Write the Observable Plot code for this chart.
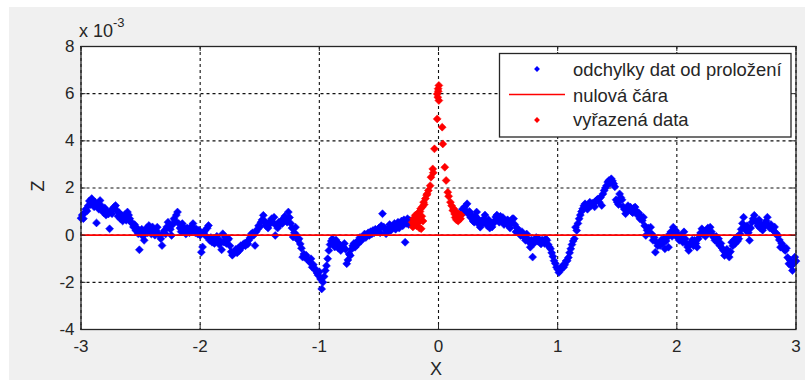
<!DOCTYPE html>
<html><head><meta charset="utf-8">
<script src="https://cdn.jsdelivr.net/npm/d3@7"></script>
<script src="https://cdn.jsdelivr.net/npm/@observablehq/plot@0.6"></script>
<style>
body{margin:0;background:#fff;}
#wrap{position:relative;width:805px;height:380px;overflow:hidden;font-family:"Liberation Sans",Arial,sans-serif;}
#bg{position:absolute;left:9px;top:7px;right:0;bottom:0;background:#f0f0f0}
#chart{position:absolute;left:0;top:0}
#over{position:absolute;left:0;top:0}
</style></head><body>
<div id="wrap"><div id="bg"></div><div id="chart"></div><svg id="over" width="805" height="380"></svg></div>
<script>
// values of Z in units of 1e-3
const xTicks = [-3, -2, -1, 0, 1, 2, 3];
const yTicks = [-4, -2, 0, 2, 4, 6, 8];
const seriesNames = ["odchylky dat od proložení", "nulová čára", "vyřazená data"];
const blueLeft = [[-3.00,0.72],[-2.99,0.85],[-2.98,0.70],[-2.97,0.95],[-2.96,1.10],[-2.95,1.02],[-2.94,1.25],[-2.93,1.45],[-2.92,1.30],[-2.91,1.55],[-2.90,1.38],[-2.89,1.20],[-2.88,1.40],[-2.87,0.52],[-2.86,1.30],[-2.85,1.10],[-2.84,1.47],[-2.83,1.25],[-2.82,1.05],[-2.81,0.95],[-2.80,1.15],[-2.79,0.85],[-2.78,1.00],[-2.77,0.90],[-2.76,0.27],[-2.75,1.05],[-2.74,0.91],[-2.73,1.10],[-2.72,1.20],[-2.71,1.26],[-2.70,1.05],[-2.69,0.80],[-2.68,0.95],[-2.67,0.70],[-2.66,0.85],[-2.65,0.60],[-2.64,0.75],[-2.63,0.88],[-2.62,0.63],[-2.61,0.98],[-2.60,0.85],[-2.59,0.70],[-2.58,0.55],[-2.57,0.49],[-2.56,0.35],[-2.55,0.45],[-2.54,0.20],[-2.53,0.30],[-2.52,0.06],[-2.51,-0.62],[-2.50,0.10],[-2.49,0.25],[-2.48,-0.05],[-2.47,-0.22],[-2.46,0.15],[-2.45,0.30],[-2.44,0.10],[-2.43,0.41],[-2.42,0.25],[-2.41,0.05],[-2.40,0.35],[-2.39,0.15],[-2.38,0.00],[-2.37,0.20],[-2.36,0.34],[-2.35,0.05],[-2.34,-0.01],[-2.33,-0.15],[-2.32,-0.44],[-2.31,0.10],[-2.30,0.20],[-2.29,0.05],[-2.28,0.35],[-2.27,0.55],[-2.26,0.40],[-2.25,0.25],[-2.24,-0.01],[-2.23,0.45],[-2.22,0.70],[-2.21,0.60],[-2.20,0.85],[-2.19,0.98],[-2.18,0.50],[-2.17,0.30],[-2.16,0.15],[-2.15,0.49],[-2.14,0.35],[-2.13,0.20],[-2.12,0.05],[-2.11,0.30],[-2.10,0.21],[-2.09,0.10],[-2.08,0.35],[-2.07,0.15],[-2.06,0.49],[-2.05,0.30],[-2.04,0.10],[-2.03,0.25],[-2.02,0.05],[-2.01,0.21],[-2.00,0.00],[-1.99,-0.72],[-1.98,-0.50],[-1.97,0.10],[-1.96,0.20],[-1.95,-0.05],[-1.94,0.30],[-1.93,0.41],[-1.92,-0.22],[-1.91,-0.10],[-1.90,-0.30],[-1.89,-0.15],[-1.88,-0.35],[-1.87,-0.20],[-1.86,-0.05],[-1.85,-0.22],[-1.84,-0.40],[-1.83,-0.25],[-1.82,-0.62],[-1.81,0.06],[-1.80,-0.30],[-1.79,-0.10],[-1.78,-0.35],[-1.77,-0.20],[-1.76,-0.15],[-1.75,-0.45],[-1.74,-0.70],[-1.73,-0.85],[-1.72,-0.78],[-1.71,-0.72],[-1.70,-0.60],[-1.69,-0.75],[-1.68,-0.55],[-1.67,-0.65],[-1.66,-0.45],[-1.65,-0.51],[-1.64,-0.40],[-1.63,-0.35],[-1.62,-0.45],[-1.61,-0.30],[-1.60,-0.37],[-1.59,-0.20],[-1.58,-0.10],[-1.57,0.05],[-1.56,0.10],[-1.55,0.00],[-1.54,-0.44],[-1.53,0.15],[-1.52,0.25],[-1.51,0.40],[-1.50,0.35],[-1.49,0.55],[-1.48,0.65],[-1.47,0.84],[-1.46,0.60],[-1.45,0.41],[-1.44,0.50],[-1.43,0.30],[-1.42,0.45],[-1.41,0.60],[-1.40,0.70],[-1.39,0.55],[-1.38,0.76],[-1.37,-0.01],[-1.36,0.40],[-1.35,0.30],[-1.34,0.55],[-1.33,0.45],[-1.32,0.60],[-1.31,0.49],[-1.30,0.70],[-1.29,0.80],[-1.28,0.65],[-1.27,0.55],[-1.26,0.98],[-1.25,0.75],[-1.24,0.50],[-1.23,0.30],[-1.22,-0.08],[-1.21,0.10],[-1.20,0.34],[-1.19,0.00],[-1.18,-0.20],[-1.17,-0.15],[-1.16,-0.37],[-1.15,-0.55],[-1.14,-0.93],[-1.13,-0.80],[-1.12,-0.95],[-1.11,-0.85],[-1.10,-1.00],[-1.09,-1.08],[-1.08,-1.15],[-1.07,-1.00],[-1.06,-1.36],[-1.05,-1.25],[-1.04,-1.40],[-1.03,-1.50],[-1.02,-1.60],[-1.01,-1.70],[-1.00,-1.55],[-0.99,-1.86],[-0.98,-2.28],[-0.97,-2.00],[-0.96,-1.75],[-0.95,-1.50],[-0.94,-1.30],[-0.93,-1.00],[-0.92,-0.65],[-0.91,-0.40],[-0.90,-0.25],[-0.89,-0.15],[-0.88,-0.35],[-0.87,-0.50],[-0.86,-0.20],[-0.85,-0.30],[-0.84,-0.55],[-0.83,-0.40],[-0.82,-0.65],[-0.81,-0.45],[-0.80,-0.50],[-0.79,-0.35],[-0.78,-0.60],[-0.77,-1.21],[-0.76,-1.05],[-0.75,-0.80],[-0.74,-0.86],[-0.73,-0.60],[-0.72,-0.45],[-0.71,-0.35],[-0.70,-0.51],[-0.69,-0.30],[-0.68,-0.40],[-0.67,-0.22],[-0.66,-0.10],[-0.65,-0.25],[-0.64,-0.15],[-0.63,-0.08],[-0.62,0.05],[-0.61,-0.10],[-0.60,0.00],[-0.59,0.10],[-0.58,-0.01],[-0.57,0.15],[-0.56,0.05],[-0.55,0.20],[-0.54,0.10],[-0.53,0.25],[-0.52,0.15],[-0.51,0.21],[-0.50,0.30],[-0.49,0.10],[-0.48,0.40],[-0.47,0.91],[-0.46,0.35],[-0.45,0.25],[-0.44,0.06],[-0.43,0.15],[-0.42,0.30],[-0.41,0.45],[-0.40,0.20],[-0.39,0.35],[-0.38,0.34],[-0.37,0.50],[-0.36,0.25],[-0.35,0.40],[-0.34,0.55],[-0.33,0.30],[-0.32,0.49],[-0.31,0.60],[-0.30,0.40],[-0.29,0.65],[-0.28,-0.30],[-0.27,0.50],[-0.26,0.70],[-0.25,0.45],[-0.24,0.62],[-0.23,0.55]];
const blueRight = [[0.20,1.10],[0.21,0.95],[0.22,1.20],[0.23,1.05],[0.24,1.33],[0.25,0.90],[0.26,1.00],[0.27,0.75],[0.28,0.84],[0.29,0.60],[0.30,0.55],[0.31,0.80],[0.32,0.98],[0.33,0.70],[0.34,0.45],[0.35,0.34],[0.36,0.60],[0.37,0.50],[0.38,0.70],[0.39,0.85],[0.40,0.55],[0.41,0.40],[0.42,0.65],[0.43,0.30],[0.44,0.50],[0.45,0.35],[0.46,0.49],[0.47,0.60],[0.48,0.77],[0.49,0.85],[0.50,0.70],[0.51,0.55],[0.52,0.80],[0.53,0.62],[0.54,0.75],[0.55,0.45],[0.56,0.60],[0.57,0.49],[0.58,0.65],[0.59,0.40],[0.60,0.30],[0.61,0.55],[0.62,0.70],[0.63,0.70],[0.64,0.45],[0.65,0.14],[0.66,0.30],[0.67,0.20],[0.68,0.05],[0.69,-0.01],[0.70,0.15],[0.71,0.00],[0.72,-0.10],[0.73,-0.22],[0.74,0.05],[0.75,-0.15],[0.76,-0.30],[0.77,-0.51],[0.78,-0.20],[0.79,-0.93],[0.80,-0.35],[0.81,-0.22],[0.82,-0.10],[0.83,-0.25],[0.84,-0.15],[0.85,-0.30],[0.86,-0.37],[0.87,-0.20],[0.88,-0.25],[0.89,-0.35],[0.90,-0.15],[0.91,-0.22],[0.92,-0.40],[0.93,-0.50],[0.94,-0.58],[0.95,-0.75],[0.96,-0.90],[0.97,-1.08],[0.98,-1.20],[0.99,-1.36],[1.00,-1.45],[1.01,-1.58],[1.02,-1.50],[1.03,-1.40],[1.04,-1.30],[1.05,-1.36],[1.06,-1.25],[1.07,-1.10],[1.08,-1.08],[1.09,-0.95],[1.10,-0.75],[1.11,-0.58],[1.12,-0.40],[1.13,-0.25],[1.14,-0.15],[1.15,0.34],[1.16,0.20],[1.17,0.50],[1.18,0.70],[1.19,0.85],[1.20,1.00],[1.21,1.12],[1.22,1.25],[1.23,1.33],[1.24,1.20],[1.25,1.10],[1.26,1.30],[1.27,1.40],[1.28,1.25],[1.29,1.35],[1.30,1.33],[1.31,1.20],[1.32,1.45],[1.33,1.50],[1.34,1.54],[1.35,1.40],[1.36,1.60],[1.37,1.26],[1.38,1.75],[1.39,1.89],[1.40,2.00],[1.41,2.10],[1.42,2.25],[1.43,2.32],[1.44,2.20],[1.45,2.39],[1.46,2.30],[1.47,2.18],[1.48,2.05],[1.49,1.50],[1.50,1.40],[1.51,1.30],[1.52,1.75],[1.53,1.60],[1.54,1.50],[1.55,1.20],[1.56,1.10],[1.57,0.91],[1.58,1.05],[1.59,1.25],[1.60,1.10],[1.61,1.19],[1.62,1.00],[1.63,0.95],[1.64,1.15],[1.65,1.19],[1.66,1.00],[1.67,0.85],[1.68,0.95],[1.69,0.70],[1.70,0.80],[1.71,0.62],[1.72,0.76],[1.73,0.40],[1.74,-0.01],[1.75,0.21],[1.76,0.30],[1.77,0.10],[1.78,0.34],[1.79,0.05],[1.80,-0.22],[1.81,-0.10],[1.82,-0.72],[1.83,-0.30],[1.84,-0.45],[1.85,-0.37],[1.86,-0.44],[1.87,-0.20],[1.88,-0.35],[1.89,-0.15],[1.90,-0.58],[1.91,-0.25],[1.92,-0.10],[1.93,-0.51],[1.94,0.05],[1.95,0.14],[1.96,-0.05],[1.97,0.34],[1.98,0.10],[1.99,0.20],[2.00,-0.08],[2.01,0.05],[2.02,-0.22],[2.03,-0.10],[2.04,0.00],[2.05,-0.30],[2.06,0.14],[2.07,-0.15],[2.08,-0.35],[2.09,-0.50],[2.10,-0.65],[2.11,-0.40],[2.12,-0.30],[2.13,-0.20],[2.14,-0.45],[2.15,-0.22],[2.16,-0.35],[2.17,-0.51],[2.18,-0.15],[2.19,0.00],[2.20,0.10],[2.21,0.27],[2.22,0.05],[2.23,0.15],[2.24,-0.05],[2.25,0.20],[2.26,0.30],[2.27,0.10],[2.28,0.34],[2.29,0.15],[2.30,0.00],[2.31,-0.10],[2.32,-0.22],[2.33,-0.05],[2.34,-0.30],[2.35,-0.15],[2.36,-0.44],[2.37,-0.35],[2.38,-0.55],[2.39,-0.65],[2.40,-0.86],[2.41,-0.75],[2.42,-0.60],[2.43,-0.80],[2.44,-0.93],[2.45,-0.70],[2.46,-0.30],[2.47,-0.45],[2.48,-0.20],[2.49,-0.35],[2.50,-0.10],[2.51,-0.25],[2.52,-0.15],[2.53,0.05],[2.54,0.25],[2.55,0.50],[2.56,0.76],[2.57,0.35],[2.58,0.20],[2.59,0.40],[2.60,0.10],[2.61,-0.22],[2.62,0.30],[2.63,0.55],[2.64,0.70],[2.65,0.84],[2.66,0.60],[2.67,0.55],[2.68,0.40],[2.69,0.65],[2.70,0.30],[2.71,0.45],[2.72,0.21],[2.73,0.35],[2.74,0.50],[2.75,0.60],[2.76,0.76],[2.77,0.40],[2.78,0.30],[2.79,0.45],[2.80,0.27],[2.81,0.20],[2.82,0.35],[2.83,0.10],[2.84,0.00],[2.85,-0.01],[2.86,-0.20],[2.87,-0.51],[2.88,-0.35],[2.89,-0.45],[2.90,-0.60],[2.91,-0.65],[2.92,-0.55],[2.93,-0.95],[2.94,-1.21],[2.95,-1.05],[2.96,-1.30],[2.97,-1.50],[2.98,-1.20],[2.99,-0.93],[3.00,-1.10]];
const redData = [[-0.22,0.55],[-0.215,0.35],[-0.21,0.70],[-0.205,0.45],[-0.20,0.60],[-0.195,0.84],[-0.19,0.50],[-0.185,0.40],[-0.18,0.75],[-0.175,0.65],[-0.17,0.95],[-0.165,0.55],[-0.16,0.30],[-0.155,1.00],[-0.15,1.12],[-0.145,0.27],[-0.14,0.80],[-0.135,1.20],[-0.13,0.60],[-0.125,1.40],[-0.12,1.30],[-0.11,1.55],[-0.10,1.70],[-0.095,1.75],[-0.085,1.89],[-0.07,2.10],[-0.063,2.46],[-0.048,2.81],[-0.044,2.65],[-0.034,3.66],[-0.011,4.93],[0.003,5.71],[-0.006,5.85],[-0.011,5.99],[-0.003,6.21],[0.003,6.35],[-0.002,6.10],[0.031,4.58],[0.036,3.87],[0.053,2.88],[0.064,2.32],[0.078,1.82],[0.085,1.65],[0.10,1.40],[0.11,1.25],[0.12,1.05],[0.128,1.12],[0.135,0.90],[0.14,0.75],[0.145,1.00],[0.15,0.65],[0.157,0.84],[0.165,0.60],[0.17,0.90],[0.175,0.70],[0.185,0.70],[0.19,0.85]];
const zeroLine = [0];

const blueData = blueLeft.concat(blueRight);
const W = 805, H = 380, mL = 80.5, mR = 9.5, mT = 46, mB = 51;
const fw = W - mL - mR, fh = H - mT - mB, tl = 5;
const ink = "#262626";
const font = "'Liberation Sans', Arial, sans-serif";

const svg = Plot.plot({
  width: W, height: H,
  marginLeft: mL, marginRight: mR, marginTop: mT, marginBottom: mB,
  style: {background: "transparent", fontFamily: font, fontSize: "17px", color: ink, overflow: "visible"},
  x: {domain: [-3, 3]},
  y: {domain: [-4, 8]},
  marks: [
    Plot.frame({fill: "white", stroke: null}),
    Plot.ruleX(xTicks, {x: d => d, stroke: "#111", strokeDasharray: "3,3", strokeWidth: 1.1}),
    Plot.ruleY(yTicks, {y: d => d, stroke: "#111", strokeDasharray: "3,3", strokeWidth: 1.1}),
    Plot.dot(blueData, {x: d => d[0], y: d => d[1], symbol: "diamond2", r: 3.6, fill: "#0000ff", stroke: "#0000ff", strokeWidth: 0.5}),
    Plot.ruleY(zeroLine, {y: d => d, stroke: "#ff0000", strokeWidth: 1.6}),
    Plot.dot(redData, {x: d => d[0], y: d => d[1], symbol: "diamond2", r: 3.6, fill: "#ff0000", stroke: "#ff0000", strokeWidth: 0.5}),
    Plot.tickX(xTicks, {x: d => d, insetTop: fh - tl, stroke: ink}),
    Plot.tickX(xTicks, {x: d => d, insetBottom: fh - tl, stroke: ink}),
    Plot.tickY(yTicks, {y: d => d, insetRight: fw - tl, stroke: ink}),
    Plot.tickY(yTicks, {y: d => d, insetLeft: fw - tl, stroke: ink}),
    Plot.frame({stroke: ink, strokeWidth: 1.3}),
    Plot.axisX(xTicks, {anchor: "bottom", tickSize: 0, tickPadding: 10.5, tickFormat: d => String(d), label: null, fill: ink}),
    Plot.axisY(yTicks, {anchor: "left", tickSize: 0, tickPadding: 6.5, tickFormat: d => String(d), label: null, fill: ink})
  ]
});
document.getElementById("chart").appendChild(svg);

const s = d3.select("#over").attr("font-family", font).attr("fill", ink);
// axis labels
s.append("text").attr("x", 436).attr("y", 375).attr("text-anchor", "middle")
  .attr("font-size", 18).text("X");
s.append("text").attr("transform", "translate(44,186) rotate(-90)").attr("text-anchor", "middle")
  .attr("font-size", 18).text("Z");
// exponent
const ex = s.append("text").attr("x", 79).attr("y", 36.5).attr("text-anchor", "start").attr("font-size", 18);
ex.append("tspan").text("x 10");
ex.append("tspan").attr("dy", -9.5).attr("font-size", 13).text("-3");

// legend
const lg = s.append("g");
lg.append("rect").attr("x", 499.5).attr("y", 53.5).attr("width", 291.5).attr("height", 83.5)
  .attr("fill", "#ffffff").attr("stroke", ink).attr("stroke-width", 1.3);
const rows = [76, 101.5, 126];
const mk = [69, 94.5, 120];
lg.append("path").attr("d", d3.symbol(d3.symbolDiamond2, 22)()).attr("transform", `translate(537,${mk[0]})`).attr("fill", "#0000ff");
lg.append("line").attr("x1", 509).attr("x2", 565).attr("y1", mk[1]).attr("y2", mk[1]).attr("stroke", "#ff0000").attr("stroke-width", 1.5);
lg.append("path").attr("d", d3.symbol(d3.symbolDiamond2, 22)()).attr("transform", `translate(537,${mk[2]})`).attr("fill", "#ff0000");
seriesNames.forEach((t, i) => {
  lg.append("text").attr("x", 573).attr("y", rows[i]).attr("text-anchor", "start").attr("font-size", 18.4).text(t);
});
</script>
</body></html>
